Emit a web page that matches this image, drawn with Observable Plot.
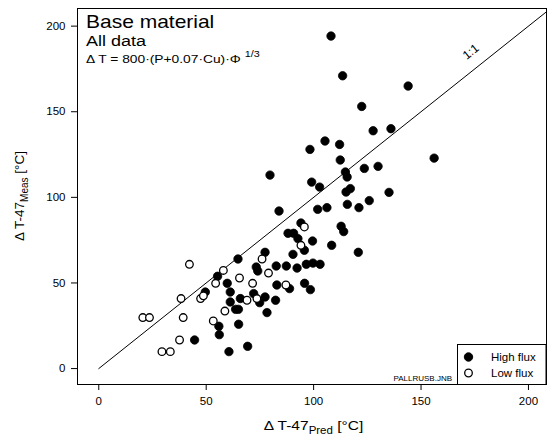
<!DOCTYPE html>
<html><head><meta charset="utf-8">
<script src="https://cdn.jsdelivr.net/npm/d3@7"></script>
<script src="https://cdn.jsdelivr.net/npm/@observablehq/plot@0.6"></script>
<style>
body{margin:0;background:#fff}
svg{display:block}
</style>
</head><body><div id="chart"></div>
<script>
// High flux (filled) ΔT-47 predicted vs measured
const highPred = [108.1,113.5,144.0,122.4,127.7,136.0,105.3,98.3,112.1,112.4,114.8,115.6,123.6,130.0,156.1,79.7,99.1,102.8,115.1,117.1,135.1,115.7,125.9,121.1,83.9,101.9,106.2,94.1,112.8,114.0,88.1,90.7,92.7,99.5,95.7,108.4,77.4,90.4,120.8,73.3,74.0,82.6,87.3,92.3,96.6,99.7,103.0,64.8,55.3,59.8,82.9,88.8,95.8,98.5,61.2,49.6,61.2,65.9,72.1,74.9,77.4,82.3,63.7,65.0,78.3,55.9,56.1,65.1,44.6,60.6,69.3];
const highMeas = [194.2,171.0,165.0,153.1,138.9,140.1,132.9,128.0,130.9,121.8,114.8,111.9,116.9,118.1,122.9,113.0,108.9,106.0,103.1,105.1,102.9,95.9,98.1,94.0,92.0,93.0,94.0,85.0,83.1,80.0,79.0,79.0,75.9,74.5,69.1,72.0,67.9,66.7,67.9,59.3,57.0,59.9,59.9,58.7,60.9,61.6,60.9,64.0,53.9,49.8,48.8,46.7,49.8,46.1,44.7,44.7,38.9,40.9,43.8,38.5,41.8,39.9,34.6,34.6,32.7,24.7,19.8,25.9,16.7,9.9,13.0];
// Low flux (open)
const lowPred = [95.7,94.1,76.0,42.2,58.0,54.4,65.5,71.6,79.0,87.1,47.4,48.7,38.3,69.0,73.6,58.7,20.5,23.6,39.3,53.3,37.6,29.4,33.3];
const lowMeas = [82.7,72.0,64.0,60.9,57.3,49.8,52.9,49.8,55.8,48.8,40.9,42.5,40.9,39.9,40.9,33.6,29.8,29.8,29.8,27.8,16.7,9.9,9.9];
const xTicks = [0,50,100,150,200];
const yTicks = [0,50,100,150,200];
const oneToOne = [0, 215];
const legendLabels = ["High flux","Low flux"];

const high = highPred.map((v,i)=>({pred:v, meas:highMeas[i]}));
const low = lowPred.map((v,i)=>({pred:v, meas:lowMeas[i]}));
const diag = oneToOne.map(v=>({pred:v, meas:v}));

const FONT = '"Liberation Sans", Arial, sans-serif';
const plot = Plot.plot({
  width: 551, height: 437,
  marginLeft: 77, marginRight: 5, marginTop: 8, marginBottom: 53,
  style: {fontFamily: FONT, fontSize: "11.5px", color: "black", background: "white"},
  x: {domain: [-9.9, 208.4], label: null},
  y: {domain: [-9.3, 210.3], label: null},
  marks: [
    Plot.line(diag, {x: "pred", y: "meas", stroke: "black", strokeWidth: 1, clip: true}),
    Plot.dot(high, {x: "pred", y: "meas", r: 4.2, fill: "black", stroke: "black", strokeWidth: 0.8}),
    Plot.dot(low, {x: "pred", y: "meas", r: 3.8, fill: "white", stroke: "black", strokeWidth: 1.3}),
    Plot.frame({stroke: "black", strokeWidth: 1}),
    Plot.axisX({ticks: xTicks, tickSize: 6, tickPadding: 6, label: null, fontSize: 11.5}),
    Plot.axisY({ticks: yTicks, tickSize: 6, tickPadding: 6, label: null, fontSize: 11.5})
  ]
});
document.getElementById("chart").appendChild(plot);

const svg = d3.select(plot);
const sx = plot.scale("x"), sy = plot.scale("y");
const g = svg.append("g").attr("font-family", FONT).attr("fill", "black").attr("text-anchor", "start");

// Titles (the original is slightly stretched horizontally)
g.append("text").attr("transform", "translate(86,28) scale(1.2,1)").attr("font-size", 17.5).text("Base material");
g.append("text").attr("transform", "translate(86,46) scale(1.2,1)").attr("font-size", 15).text("All data");
const f = g.append("text").attr("transform", "translate(86,63) scale(1.2,1)").attr("font-size", 11.5);
f.append("tspan").text("\u0394 T = 800\u00B7(P+0.07\u00B7Cu)\u00B7\u03A6 ");
f.append("tspan").attr("font-size", 9).attr("dy", -6).text("1/3");

// 1:1 label
const ang = Math.atan2(sy.apply(0) - sy.apply(100), sx.apply(100) - sx.apply(0)) * 180 / Math.PI;
g.append("text")
  .attr("transform", `translate(${sx.apply(174.5)},${sy.apply(183)}) rotate(${-ang})`)
  .attr("text-anchor", "middle").attr("font-size", 12).text("1:1");

// Axis labels
const xl = g.append("text").attr("transform", `translate(${(77 + 546) / 2 + 2},430) scale(1.15,1)`).attr("text-anchor", "middle").attr("font-size", 13.5);
xl.append("tspan").text("\u0394 T-47");
xl.append("tspan").attr("font-size", 10).attr("dy", 4).text("Pred");
xl.append("tspan").attr("dy", -4).text(" [\u00B0C]");

const yl = g.append("text").attr("transform", `translate(24,${(8 + 384) / 2}) rotate(-90)`).attr("text-anchor", "middle").attr("font-size", 13.5);
yl.append("tspan").text("\u0394 T-47");
yl.append("tspan").attr("font-size", 10).attr("dy", 4).text("Meas");
yl.append("tspan").attr("dy", -4).text(" [\u00B0C]");

// footnote
g.append("text").attr("x", 452).attr("y", 381).attr("text-anchor", "end").attr("font-size", 8).text("PALLRUSB.JNB");

// Legend
g.append("rect").attr("x", 457.5).attr("y", 344.5).attr("width", 88.5).attr("height", 40).attr("fill", "white").attr("stroke", "black");
g.append("circle").attr("cx", 468.5).attr("cy", 357).attr("r", 4.2).attr("fill", "black").attr("stroke", "black");
g.append("circle").attr("cx", 468.5).attr("cy", 373).attr("r", 3.8).attr("fill", "white").attr("stroke", "black").attr("stroke-width", 1.3);
g.append("text").attr("x", 491).attr("y", 361).attr("font-size", 11.5).text(legendLabels[0]);
g.append("text").attr("x", 491).attr("y", 377).attr("font-size", 11.5).text(legendLabels[1]);
</script>
</body></html>
